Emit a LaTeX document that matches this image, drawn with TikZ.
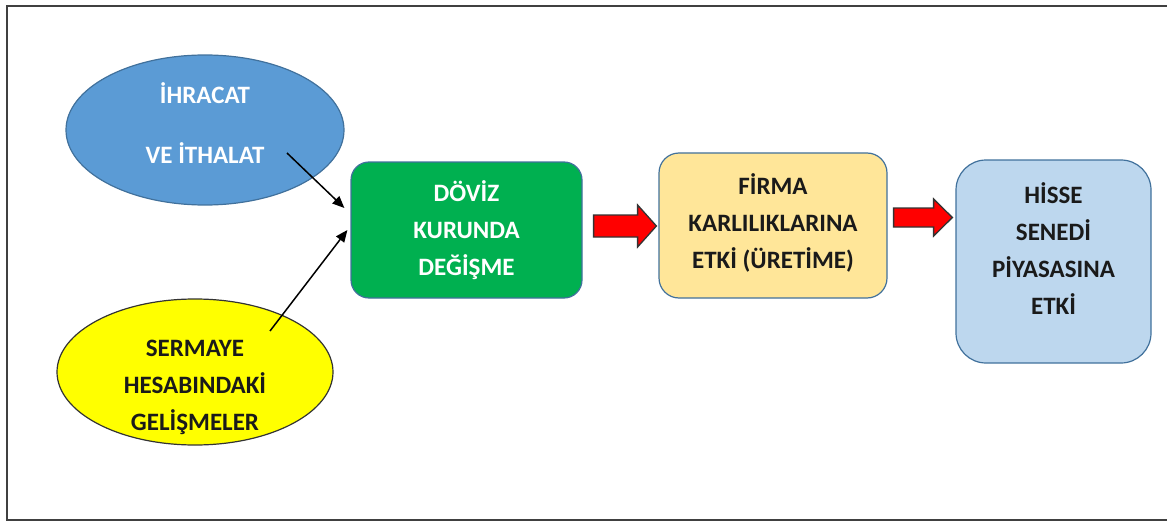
\documentclass[tikz,border=0pt]{standalone}
\usepackage{fontspec}
\setmainfont{Carlito}
\usetikzlibrary{arrows.meta,calc,shapes.geometric}
\definecolor{ebl}{HTML}{5B9BD5}
\definecolor{edge}{HTML}{41719C}
\definecolor{grn}{HTML}{00B050}
\definecolor{org}{HTML}{FFE699}
\definecolor{lbl}{HTML}{BDD7EE}
\definecolor{ylw}{HTML}{FFFF00}
\definecolor{txt}{HTML}{1A1A1A}
\tikzset{
  lab/.style={font=\bfseries\fontsize{25}{37}\selectfont, align=center, inner sep=0pt},
  oval/.style={ellipse, draw=edge, line width=1.2pt, inner sep=0pt},
  boxx/.style={draw=edge, line width=1.2pt, inner sep=0pt},
  link/.style={-{Triangle[length=12pt,width=10pt]}, line width=1.5pt, black},
  redarrow/.style={fill=red, draw=black!80, line width=1.3pt, line join=miter}
}
\begin{document}
\begin{tikzpicture}[x=1pt,y=-1pt]
\useasboundingbox (0,0) rectangle (1167,524);
\draw[black!75, line width=2pt] (7,6) rectangle (1180,520);
% shapes
\node[oval, fill=ebl, minimum width=278pt, minimum height=150pt] (ihr) at (205,130) {};
\node[oval, draw=black!80, fill=ylw, minimum width=276pt, minimum height=146pt] (ser) at (195,372) {};
\node[boxx, fill=grn, rounded corners=18pt, minimum width=231pt, minimum height=136pt] (dov) at (466.5,230) {};
\node[boxx, fill=org, rounded corners=20pt, minimum width=228pt, minimum height=145pt] (fir) at (773,225.5) {};
\node[boxx, fill=lbl, rounded corners=30pt, minimum width=195pt, minimum height=203pt] (his) at (1053.5,261.5) {};
% texts
\node[lab, text=white] (ihrt) at (205,123) {İHRACAT\\[23pt]VE İTHALAT};
\node[lab, text=txt] (sert) at (195,387) {SERMAYE\\HESABINDAKİ\\GELİŞMELER};
\node[lab, text=white] (dovt) at (dov.center) {DÖVİZ\\KURUNDA\\DEĞİŞME};
\node[lab, text=txt] (firt) at (773,223) {FİRMA\\KARLILIKLARINA\\ETKİ (ÜRETİME)};
\node[lab, text=txt] (hist) at (1053.5,249) {HİSSE\\SENEDİ\\PİYASASINA\\ETKİ};
% black connectors
\coordinate (a1) at ($(ihr.center)+(82,23)$);
\coordinate (a2) at ($(ser.center)+(75,-41)$);
\draw[link] (a1) -- ($(dov.west)+(-6,-22)$);
\draw[link] (a2) -- ($(dov.west)+(-3,0)$);
% red block arrows
\coordinate (r1) at ($(dov.east)+(11,-4)$);
\draw[redarrow] (r1) ++(0,-11) -- ++(44,0) -- ++(0,-10) -- ($(fir.west)+(-2,0.5)$) -- ($(r1)+(44,21)$) -- ++(0,-10) -- ++(-44,0) -- cycle;
\coordinate (r2) at ($(fir.east)+(6,-8)$);
\draw[redarrow] (r2) ++(0,-9.5) -- ++(40,0) -- ++(0,-9) -- ($(his.west)+(-3,-44)$) -- ($(r2)+(40,18.5)$) -- ++(0,-9) -- ++(-40,0) -- cycle;
\end{tikzpicture}
\end{document}
